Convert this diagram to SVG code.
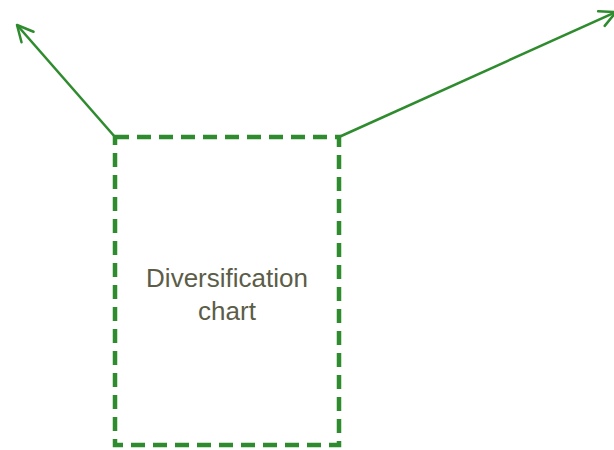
<svg xmlns="http://www.w3.org/2000/svg" width="614" height="450" viewBox="0 0 614 450">
  <style>
    .edge { fill: none; stroke: #2e8b2e; stroke-width: 2.5; }
    .box { fill: none; stroke: #2e8b2e; stroke-width: 4.5; stroke-dasharray: 14 8; }
    .label { font-family: "Liberation Sans", Arial, sans-serif; font-size: 26px; fill: #5b5d48; text-anchor: middle; }
  </style>
  <defs>
    <marker id="open-arrow" viewBox="0 0 20 20" refX="18" refY="10" markerWidth="20" markerHeight="20" markerUnits="userSpaceOnUse" orient="auto">
      <path d="M2,2 L18,10 L2,18" fill="none" stroke="#2e8b2e" stroke-width="2.5" stroke-linecap="round" stroke-linejoin="round"/>
    </marker>
  </defs>
  <g id="connectors">
    <line class="edge" x1="115" y1="137" x2="17" y2="25" marker-end="url(#open-arrow)"/>
    <line class="edge" x1="339" y1="137" x2="616" y2="12" marker-end="url(#open-arrow)"/>
  </g>
  <g id="diversification-chart">
    <rect class="box" x="115" y="137" width="224" height="308"/>
    <text class="label" x="227" y="287">Diversification</text>
    <text class="label" x="227" y="320">chart</text>
  </g>
</svg>
